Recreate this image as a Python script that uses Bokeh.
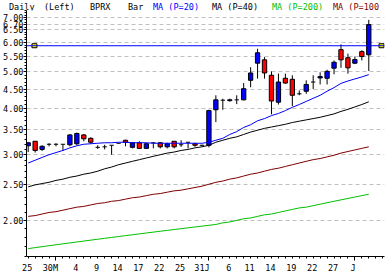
from bokeh.plotting import figure
from bokeh.layouts import column
from bokeh.models import (FixedTicker, LinearAxis, PrintfTickFormatter, Span, Div,
                          Range1d, CustomJSTickFormatter, AllLabels)
from bokeh.embed import file_html
from bokeh.resources import INLINE

# ---------------- data ----------------
opens  = [3.17, 3.26, 3.10, 3.20, 3.20, 3.20, 3.19, 3.21, 3.39, 3.32,
          3.14, 3.15, 3.18, 3.22, 3.28, 3.14, 3.23, 3.12, 3.23, 3.23,
          3.15, 3.26, 3.19, 3.24, 3.21, 3.18, 3.18, 3.96, 4.20, 4.19,
          4.21, 4.21, 4.75, 5.28, 5.39, 4.90, 4.15, 4.81, 4.78, 4.37,
          4.44, 4.70, 4.82, 4.81, 5.12, 5.74, 5.46, 5.28, 5.67, 5.56]
highs  = [3.24, 3.26, 3.18, 3.22, 3.22, 3.20, 3.41, 3.44, 3.41, 3.34,
          3.18, 3.19, 3.18, 3.22, 3.29, 3.24, 3.26, 3.23, 3.23, 3.24,
          3.23, 3.26, 3.28, 3.24, 3.23, 3.19, 3.96, 4.33, 4.24, 4.24,
          4.33, 4.67, 5.15, 5.77, 5.48, 5.02, 4.95, 4.95, 4.90, 4.46,
          4.75, 4.90, 4.99, 5.07, 5.37, 5.93, 5.60, 5.50, 5.72, 6.90]
lows   = [3.05, 3.04, 3.07, 3.16, 3.16, 3.07, 3.16, 3.18, 3.26, 3.21,
          3.11, 3.10, 3.00, 3.21, 3.16, 3.12, 3.11, 3.11, 3.12, 3.12,
          3.12, 3.12, 3.15, 3.12, 3.15, 3.16, 3.14, 3.67, 3.96, 4.16,
          4.10, 4.20, 4.55, 4.80, 4.80, 3.85, 4.09, 4.65, 4.05, 4.33,
          4.37, 4.50, 4.63, 4.63, 4.93, 5.13, 4.95, 5.25, 5.37, 5.03]
closes = [3.23, 3.08, 3.16, 3.20, 3.20, 3.20, 3.39, 3.42, 3.31, 3.24,
          3.14, 3.15, 3.18, 3.22, 3.24, 3.23, 3.12, 3.21, 3.23, 3.15,
          3.21, 3.15, 3.19, 3.24, 3.18, 3.18, 3.94, 4.21, 4.20, 4.21,
          4.21, 4.51, 4.97, 5.63, 4.97, 4.18, 4.70, 4.67, 4.33, 4.37,
          4.63, 4.70, 4.86, 5.02, 5.31, 5.39, 5.13, 5.40, 5.50, 6.70]

ma20  = [2.85, 2.90, 2.95, 3.00, 3.04, 3.08, 3.13, 3.17, 3.20, 3.21,
         3.22, 3.23, 3.23, 3.24, 3.24, 3.23, 3.23, 3.23, 3.22, 3.22,
         3.22, 3.22, 3.22, 3.22, 3.22, 3.22, 3.24, 3.28, 3.32, 3.40,
         3.46, 3.55, 3.61, 3.70, 3.75, 3.82, 3.87, 3.94, 4.02, 4.09,
         4.17, 4.25, 4.33, 4.44, 4.54, 4.66, 4.73, 4.79, 4.85, 4.92]
ma40  = [2.46, 2.49, 2.51, 2.53, 2.56, 2.58, 2.61, 2.63, 2.66, 2.68,
         2.71, 2.75, 2.78, 2.82, 2.85, 2.88, 2.91, 2.94, 2.97, 3.00,
         3.03, 3.05, 3.08, 3.10, 3.13, 3.15, 3.18, 3.24, 3.28, 3.32,
         3.35, 3.40, 3.45, 3.49, 3.53, 3.56, 3.59, 3.62, 3.66, 3.69,
         3.72, 3.75, 3.78, 3.82, 3.86, 3.92, 3.97, 4.03, 4.09, 4.16]
ma100 = [2.05, 2.06, 2.08, 2.10, 2.11, 2.13, 2.15, 2.17, 2.18, 2.20,
         2.22, 2.23, 2.25, 2.26, 2.28, 2.30, 2.31, 2.33, 2.35, 2.36,
         2.38, 2.40, 2.41, 2.43, 2.45, 2.47, 2.50, 2.53, 2.55, 2.58,
         2.60, 2.63, 2.66, 2.68, 2.71, 2.74, 2.76, 2.79, 2.82, 2.85,
         2.88, 2.91, 2.93, 2.96, 2.99, 3.03, 3.06, 3.09, 3.12, 3.15]
ma200 = [1.68, 1.69, 1.70, 1.71, 1.72, 1.73, 1.74, 1.75, 1.76, 1.77,
         1.78, 1.79, 1.80, 1.81, 1.82, 1.83, 1.84, 1.85, 1.86, 1.87,
         1.88, 1.89, 1.90, 1.91, 1.92, 1.93, 1.94, 1.95, 1.97, 1.98,
         2.00, 2.02, 2.03, 2.05, 2.07, 2.08, 2.10, 2.12, 2.14, 2.16,
         2.17, 2.19, 2.21, 2.23, 2.25, 2.27, 2.29, 2.31, 2.33, 2.35]

ref_level = 5.88
y_ticks = [2.0, 2.5, 3.0, 3.5, 4.0, 4.5, 5.0, 5.5, 6.0, 6.5, 6.7, 7.0]
x_label_pos = [-0.15, 3.2, 6.85, 9.85, 12.85, 15.85, 18.85, 21.85, 25.0,
               28.85, 31.85, 34.85, 37.85, 40.85, 43.85, 46.75]
x_labels = ["25", "30M", "4", "9", "14", "17", "22", "25", "31J",
            "6", "11", "14", "19", "22", "27", "J"]
month_starts = [4, 26, 47]

header = [("Daily", "black"), ("(Left)", "black"), ("BPRX", "black"), ("Bar", "black"),
          ("MA (P=20)", "#0000ff"), ("MA (P=40)", "black"),
          ("MA (P=200)", "#00c000"), ("MA (P=100", "#800000")]
header_x = [9, 44, 90, 128, 153, 212, 272, 333]

# ---------------- figure ----------------
FONT = "DejaVu Sans Mono"
FS = "8.5px"
n = len(opens)
xs = list(range(n))

p = figure(width=385, height=265, output_backend="svg", toolbar_location=None,
           y_axis_type="log",
           x_range=Range1d(-0.244, 51.26), y_range=Range1d(1.60, 7.31),
           min_border_left=25, min_border_right=1, min_border_top=0,
           min_border_bottom=19, margin=0)
p.background_fill_color = "white"
p.border_fill_color = "white"
p.outline_line_color = None

# y axis
ya = p.yaxis[0]
ya.ticker = FixedTicker(ticks=y_ticks,
                        minor_ticks=[round(1.6 + 0.1 * k, 1) for k in range(58)])
ya.formatter = PrintfTickFormatter(format="%.2f")
ya.major_label_policy = AllLabels()
ya.major_tick_out = 3
ya.major_tick_in = 0
ya.minor_tick_out = 2
ya.minor_tick_in = 0
ya.major_label_standoff = 0
ya.major_label_text_font = FONT
ya.major_label_text_font_size = FS
ya.major_label_text_color = "black"
ya.axis_line_color = "black"

# x axis: ticks only
xa = p.xaxis[0]
xa.ticker = FixedTicker(ticks=month_starts, minor_ticks=list(range(0, 52)))
xa.formatter = CustomJSTickFormatter(code="return '';")
xa.major_label_text_font_size = "1px"
xa.major_label_standoff = 0
xa.major_tick_out = 4
xa.major_tick_in = 0
xa.minor_tick_out = 2
xa.minor_tick_in = 0
xa.axis_line_color = "black"

# x axis: labels only
xl = LinearAxis(ticker=FixedTicker(ticks=x_label_pos, minor_ticks=[]),
                formatter=CustomJSTickFormatter(args=dict(labs=x_labels),
                                                code="return labs[index];"))
xl.axis_line_color = None
xl.major_tick_line_color = None
xl.minor_tick_line_color = None
xl.major_tick_out = 0
xl.major_tick_in = 0
xl.major_label_standoff = 2
xl.major_label_policy = AllLabels()
xl.major_label_text_font = FONT
xl.major_label_text_font_size = FS
xl.major_label_text_color = "black"
p.add_layout(xl, "below")

# grid
p.xgrid.visible = False
p.ygrid.ticker = FixedTicker(ticks=y_ticks)
p.ygrid.grid_line_color = "#c0c0c0"
p.ygrid.grid_line_dash = "4 3"

# reference line
p.add_layout(Span(location=ref_level, dimension="width", line_color="#0000ff", line_width=1))

# candles
tops = [max(o, c) for o, c in zip(opens, closes)]
bots = [min(o, c) for o, c in zip(opens, closes)]
cols = ["#0000ff" if c > o else "#ff0000" for o, c in zip(opens, closes)]
p.segment(xs, lows, xs, highs, line_color="black", line_width=1)
body_idx = [i for i in xs if opens[i] != closes[i]]
p.vbar(x=[xs[i] for i in body_idx], top=[tops[i] for i in body_idx],
       bottom=[bots[i] for i in body_idx], width=0.62,
       fill_color=[cols[i] for i in body_idx], line_color="black", line_width=1)
doji_idx = [i for i in xs if opens[i] == closes[i]]
p.segment([xs[i] - 0.31 for i in doji_idx], [opens[i] for i in doji_idx],
          [xs[i] + 0.31 for i in doji_idx], [opens[i] for i in doji_idx],
          line_color="black", line_width=1)

# moving averages
p.line(xs, ma200, line_color="#00c000", line_width=1)
p.line(xs, ma100, line_color="#800000", line_width=1)
p.line(xs, ma40, line_color="black", line_width=1)
p.line(xs, ma20, line_color="#0000ff", line_width=1)

# last-level markers
p.rect(x=[0.9, 50.83], y=[ref_level, ref_level], width=5, height=4,
       width_units="screen", height_units="screen",
       fill_color="#ffff00", line_color="black", line_width=1)

# header strip
spans = "".join(
    f'<span style="position:absolute;left:{hx}px;top:0px;color:{col}">{txt}</span>'
    for (txt, col), hx in zip(header, header_x))
html = ('<div style="position:relative;width:385px;height:10px;overflow:hidden;'
        f"font-family:'{FONT}';font-size:{FS};line-height:10px;white-space:nowrap;"
        f'background:white">{spans}</div>')
head = Div(text=html, width=385, height=10, margin=0)

layout = column(head, p, spacing=0, margin=0)
open("out.html", "w").write(file_html(layout, INLINE))
